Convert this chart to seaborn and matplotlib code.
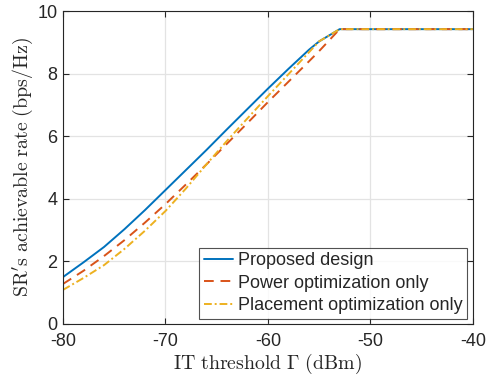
import numpy as np
import pandas as pd
import matplotlib
matplotlib.use("Agg")
import matplotlib.pyplot as plt
import seaborn as sns

x_vals = [-80, -78, -76, -74, -72, -70, -68, -66, -64, -62, -60, -58, -56, -55, -53, -50, -45, -40]
proposed = [1.50, 1.97, 2.46, 3.03, 3.64, 4.28, 4.92, 5.56, 6.22, 6.87, 7.52, 8.15, 8.76, 9.03, 9.42, 9.42, 9.42, 9.42]
power_only = [1.28, 1.70, 2.17, 2.68, 3.24, 3.83, 4.46, 5.10, 5.76, 6.42, 7.09, 7.74, 8.39, 8.72, 9.42, 9.42, 9.42, 9.42]
placement_only = [1.09, 1.47, 1.88, 2.40, 2.98, 3.61, 4.33, 5.10, 5.85, 6.57, 7.28, 7.98, 8.68, 9.03, 9.42, 9.42, 9.42, 9.42]
labels = ["Proposed design", "Power optimization only", "Placement optimization only"]
xticks = [-80, -70, -60, -50, -40]
yticks = [0, 2, 4, 6, 8, 10]

df = pd.concat([
    pd.DataFrame({"x": x_vals, "y": proposed, "s": labels[0]}),
    pd.DataFrame({"x": x_vals, "y": power_only, "s": labels[1]}),
    pd.DataFrame({"x": x_vals, "y": placement_only, "s": labels[2]}),
])

sns.set_style("white")
plt.rcParams["font.family"] = ["Liberation Sans", "DejaVu Sans"]
plt.rcParams["mathtext.fontset"] = "cm"

fig = plt.figure(figsize=(4.9, 3.77), dpi=100)
ax = fig.add_axes([0.1286, 0.1406, 0.8364, 0.8302])

palette = {labels[0]: "#0072BD", labels[1]: "#D95319", labels[2]: "#EDB120"}
dashes = {labels[0]: "", labels[1]: (5, 3.5), labels[2]: (4, 1.5, 1, 1.5)}
sns.lineplot(data=df, x="x", y="y", hue="s", style="s", palette=palette,
             dashes=dashes, linewidth=1.4, ax=ax, legend=True)

ax.set_xlim(-80, -40)
ax.set_ylim(0, 10)
ax.set_xticks(xticks)
ax.set_yticks(yticks)
ax.set_xticklabels([str(t) for t in xticks])
ax.set_yticklabels([str(t) for t in yticks])
ax.grid(True, color="#e3e3e3", linewidth=0.9)
ax.set_axisbelow(True)
for sp in ax.spines.values():
    sp.set_color("#262626")
    sp.set_linewidth(0.8)
ax.tick_params(direction="in", length=4, width=0.8, colors="#262626",
               labelsize=13, top=True, right=True, bottom=True, left=True)
ax.tick_params(axis="x", pad=6.5)
ax.tick_params(axis="y", pad=4)
for lbl in ax.get_xticklabels() + ax.get_yticklabels():
    lbl.set_color("#262626")

ax.set_xlabel(r"$\mathrm{IT\ threshold\ \Gamma\ (dBm)}$", fontsize=14.3, color="#262626", labelpad=1)
ax.set_ylabel(r"$\mathrm{SR's\ achievable\ rate\ (bps/Hz)}$", fontsize=14.3, color="#262626", labelpad=1.5)

handles, lbls = ax.get_legend_handles_labels()
leg = ax.legend(handles, lbls, loc="lower right", fontsize=13, frameon=True,
                fancybox=False, edgecolor="#262626", handlelength=1.6,
                handletextpad=0.3, labelspacing=0.3, borderpad=0.25,
                borderaxespad=0.3)
leg.get_frame().set_linewidth(0.8)

fig.savefig("out.png", dpi=100)
